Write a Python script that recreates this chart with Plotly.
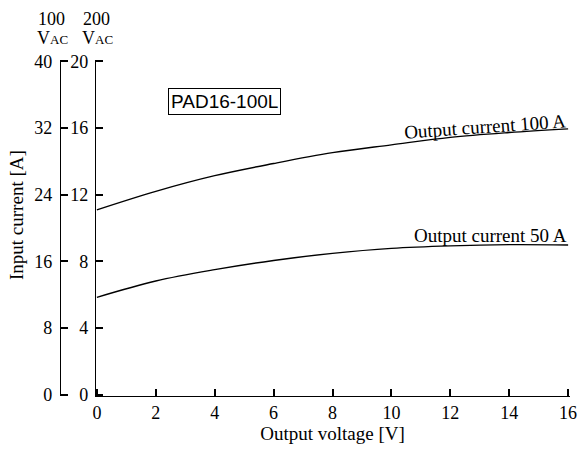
import plotly.graph_objects as go

voltage = [0, 2, 4, 6, 8, 10, 12, 14, 16]
current_100A = [11.09, 12.2, 13.14, 13.87, 14.52, 14.99, 15.44, 15.73, 15.95]
current_50A = [5.84, 6.82, 7.5, 8.05, 8.48, 8.78, 8.93, 9.0, 8.98]
x_ticks = [0, 2, 4, 6, 8, 10, 12, 14, 16]
y200_ticks = [0, 4, 8, 12, 16, 20]
y100_ticks = [0, 8, 16, 24, 32, 40]

W, H = 583, 451
ML, MR, MT, MB = 55, 13, 60, 55
PW = W - ML - MR
PH = H - MT - MB

def px(x):
    return (x - ML) / PW

def py(y):
    return (H - MB - y) / PH

serif = "Liberation Serif"
sans = "Liberation Sans"
TICK = 18
LAB = 19
EPS = 0.004  # small range padding so that end ticks are drawn

def rng(lo, hi):
    d = (hi - lo) * EPS
    return [lo - d, hi + d]

fig = go.Figure()
fig.add_trace(go.Scatter(x=voltage, y=current_100A, mode="lines",
                         line=dict(color="black", width=1.4, shape="spline"), showlegend=False))
fig.add_trace(go.Scatter(x=voltage, y=current_50A, mode="lines",
                         line=dict(color="black", width=1.4, shape="spline"), showlegend=False))
fig.add_trace(go.Scatter(x=[None], y=[None], yaxis="y2", showlegend=False))
fig.add_trace(go.Scatter(x=[None], y=[None], yaxis="y3", showlegend=False))

axis_common = dict(showgrid=False, zeroline=False, showline=True, linecolor="black", linewidth=1.2,
                   ticks="inside", ticklen=7, tickcolor="black", tickwidth=2, automargin=False,
                   tickfont=dict(family=serif, size=TICK, color="black"))

ann_font = dict(family=serif, size=LAB, color="black")
hdr_font = dict(family=serif, size=18, color="black")

fig.update_layout(
    width=W, height=H,
    margin=dict(l=ML, r=MR, t=MT, b=MB),
    paper_bgcolor="white", plot_bgcolor="rgba(0,0,0,0)",
    font=dict(family=serif, size=TICK, color="black"),
    xaxis=dict(domain=[px(95), 1], range=rng(0, 16), tickvals=x_ticks,
               title=dict(text="Output voltage [V]", font=ann_font, standoff=2),
               **axis_common),
    yaxis=dict(range=rng(0, 20), visible=False, showgrid=False, zeroline=False),
    yaxis2=dict(range=rng(0, 40), tickvals=y100_ticks, anchor="free", position=px(60), overlaying="y",
                side="left", ticklabelstandoff=4, **axis_common),
    yaxis3=dict(range=rng(0, 20), tickvals=y200_ticks, anchor="free", position=px(95), overlaying="y",
                side="left", ticklabelstandoff=3, **axis_common),
    annotations=[
        dict(text="Input current [A]", x=px(16), y=py(215), xref="paper", yref="paper", showarrow=False,
             xanchor="center", yanchor="middle", textangle=-90, font=ann_font),
        dict(text="100", x=px(51), y=py(18.5), xref="paper", yref="paper", showarrow=False,
             xanchor="center", yanchor="middle", font=hdr_font),
        dict(text="V<span style='font-size:13px'>AC</span>", x=px(52), y=py(38.5), xref="paper", yref="paper",
             xanchor="center", yanchor="middle", showarrow=False, font=hdr_font),
        dict(text="200", x=px(96), y=py(18.5), xref="paper", yref="paper", showarrow=False,
             xanchor="center", yanchor="middle", font=hdr_font),
        dict(text="V<span style='font-size:13px'>AC</span>", x=px(97), y=py(38.5), xref="paper", yref="paper",
             xanchor="center", yanchor="middle", showarrow=False, font=hdr_font),
        dict(text="PAD16-100L", x=4.34, y=17.6, xref="x", yref="y", showarrow=False,
             xanchor="center", yanchor="middle",
             font=dict(family=sans, size=19, color="black"), bordercolor="black", borderwidth=1, borderpad=2,
             bgcolor="white"),
        dict(text="Output current 100 A", x=13.18, y=16.12, xref="x", yref="y",
             xanchor="center", yanchor="middle", showarrow=False, textangle=-4, font=ann_font),
        dict(text="Output current 50 A", x=13.37, y=9.56, xref="x", yref="y",
             xanchor="center", yanchor="middle", showarrow=False, font=ann_font),
    ],
)

fig.write_html("out.html", config={"displayModeBar": False},
               post_script="document.body.style.margin='0';")
